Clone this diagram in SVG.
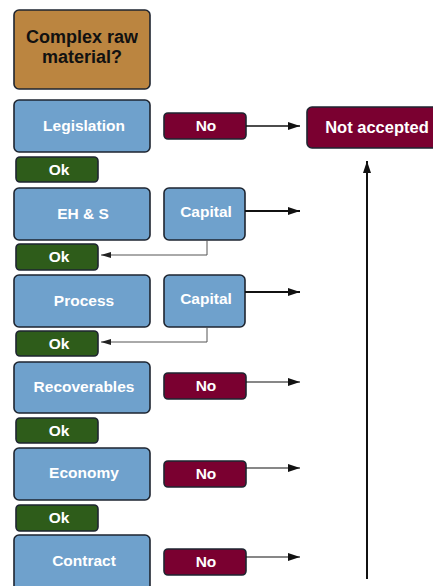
<svg xmlns="http://www.w3.org/2000/svg" width="433" height="586" viewBox="0 0 433 586">
<style>
.box{stroke:#1e2530;stroke-width:1.6}
.blue{fill:#6fa1cc}
.red{fill:#7a0030}
.green{fill:#2e5c1a}
.orange{fill:#bb8540}
.t{font-family:"Liberation Sans",Arial,sans-serif;font-weight:bold;font-size:15.5px;fill:#fff;text-anchor:middle}
.tk{font-family:"Liberation Sans",Arial,sans-serif;font-weight:bold;font-size:18px;fill:#111;text-anchor:middle}
.a{stroke:#111;fill:none}
.g{stroke:#555;stroke-width:1;fill:none}
</style>
<defs>
<marker id="ah" viewBox="0 0 12 8" refX="12" refY="4" markerWidth="12" markerHeight="8" markerUnits="userSpaceOnUse" orient="auto"><path d="M0,0L12,4L0,8z" fill="#111"/></marker>
<marker id="ahs" viewBox="0 0 10 6" refX="10" refY="3" markerWidth="10" markerHeight="6" markerUnits="userSpaceOnUse" orient="auto"><path d="M0,0L10,3L0,6z" fill="#222"/></marker>
<clipPath id="clipTop"><rect x="14" y="10" width="124" height="79"/></clipPath>
</defs>
<rect width="433" height="586" fill="#fff"/>
<g id="top">
<rect class="box orange" x="14" y="10" width="136" height="79" rx="5"/>
<g clip-path="url(#clipTop)">
<text class="tk" x="82" y="43">Complex raw</text>
<text class="tk" x="82" y="63">material?</text>
</g>
</g>
<g id="legislation"><rect class="box blue" x="14" y="100" width="136" height="52" rx="5"/><text class="t" x="84" y="131">Legislation</text></g>
<g id="no1"><rect class="box red" x="164" y="113" width="82" height="26" rx="4"/><text class="t" x="206" y="131">No</text></g>
<g id="notaccepted"><rect class="box red" x="307" y="107" width="140" height="41" rx="5"/><text class="t" x="377" y="133" style="font-size:16.5px">Not accepted</text></g>
<g id="ok1"><rect class="box green" x="16" y="157" width="82" height="25" rx="4"/><text class="t" x="59" y="175">Ok</text></g>
<g id="ehs"><rect class="box blue" x="14" y="188" width="136" height="52" rx="5"/><text class="t" x="83" y="219">EH &amp; S</text></g>
<g id="capital1"><rect class="box blue" x="164" y="188" width="81" height="52" rx="5"/><text class="t" x="206" y="217">Capital</text></g>
<g id="ok2"><rect class="box green" x="16" y="244" width="82" height="26" rx="4"/><text class="t" x="59" y="262">Ok</text></g>
<g id="process"><rect class="box blue" x="14" y="275" width="136" height="52" rx="5"/><text class="t" x="84" y="306">Process</text></g>
<g id="capital2"><rect class="box blue" x="164" y="275" width="81" height="52" rx="5"/><text class="t" x="206" y="304">Capital</text></g>
<g id="ok3"><rect class="box green" x="16" y="331" width="82" height="25" rx="4"/><text class="t" x="59" y="349">Ok</text></g>
<g id="recoverables"><rect class="box blue" x="14" y="362" width="136" height="51" rx="5"/><text class="t" x="84" y="392">Recoverables</text></g>
<g id="no2"><rect class="box red" x="164" y="373" width="82" height="26" rx="4"/><text class="t" x="206" y="391">No</text></g>
<g id="ok4"><rect class="box green" x="16" y="418" width="82" height="25" rx="4"/><text class="t" x="59" y="436">Ok</text></g>
<g id="economy"><rect class="box blue" x="14" y="448" width="136" height="52" rx="5"/><text class="t" x="84" y="478">Economy</text></g>
<g id="no3"><rect class="box red" x="164" y="461" width="82" height="26" rx="4"/><text class="t" x="206" y="479">No</text></g>
<g id="ok5"><rect class="box green" x="16" y="505" width="82" height="26" rx="4"/><text class="t" x="59" y="523">Ok</text></g>
<g id="contract"><rect class="box blue" x="14" y="535" width="136" height="56" rx="5"/><text class="t" x="84" y="566">Contract</text></g>
<g id="no4"><rect class="box red" x="164" y="549" width="82" height="26" rx="4"/><text class="t" x="206" y="567">No</text></g>
<g id="connectors">
<path class="a" d="M246,126H300" stroke-width="1.6" marker-end="url(#ah)"/>
<path class="a" d="M245,211H300" stroke-width="2" marker-end="url(#ah)"/>
<path class="a" d="M245,292H300" stroke-width="2" marker-end="url(#ah)"/>
<path class="a" d="M246,382H300" stroke-width="1.2" marker-end="url(#ah)"/>
<path class="a" d="M246,468H300" stroke-width="1.2" marker-end="url(#ah)"/>
<path class="a" d="M246,557H300" stroke-width="1.2" marker-end="url(#ah)"/>
<path class="a" d="M367,579V161" stroke-width="2" marker-end="url(#ah)"/>
<path class="g" d="M207,240V255H101" marker-end="url(#ahs)"/>
<path class="g" d="M207,327V342H101" marker-end="url(#ahs)"/>
</g>
</svg>
